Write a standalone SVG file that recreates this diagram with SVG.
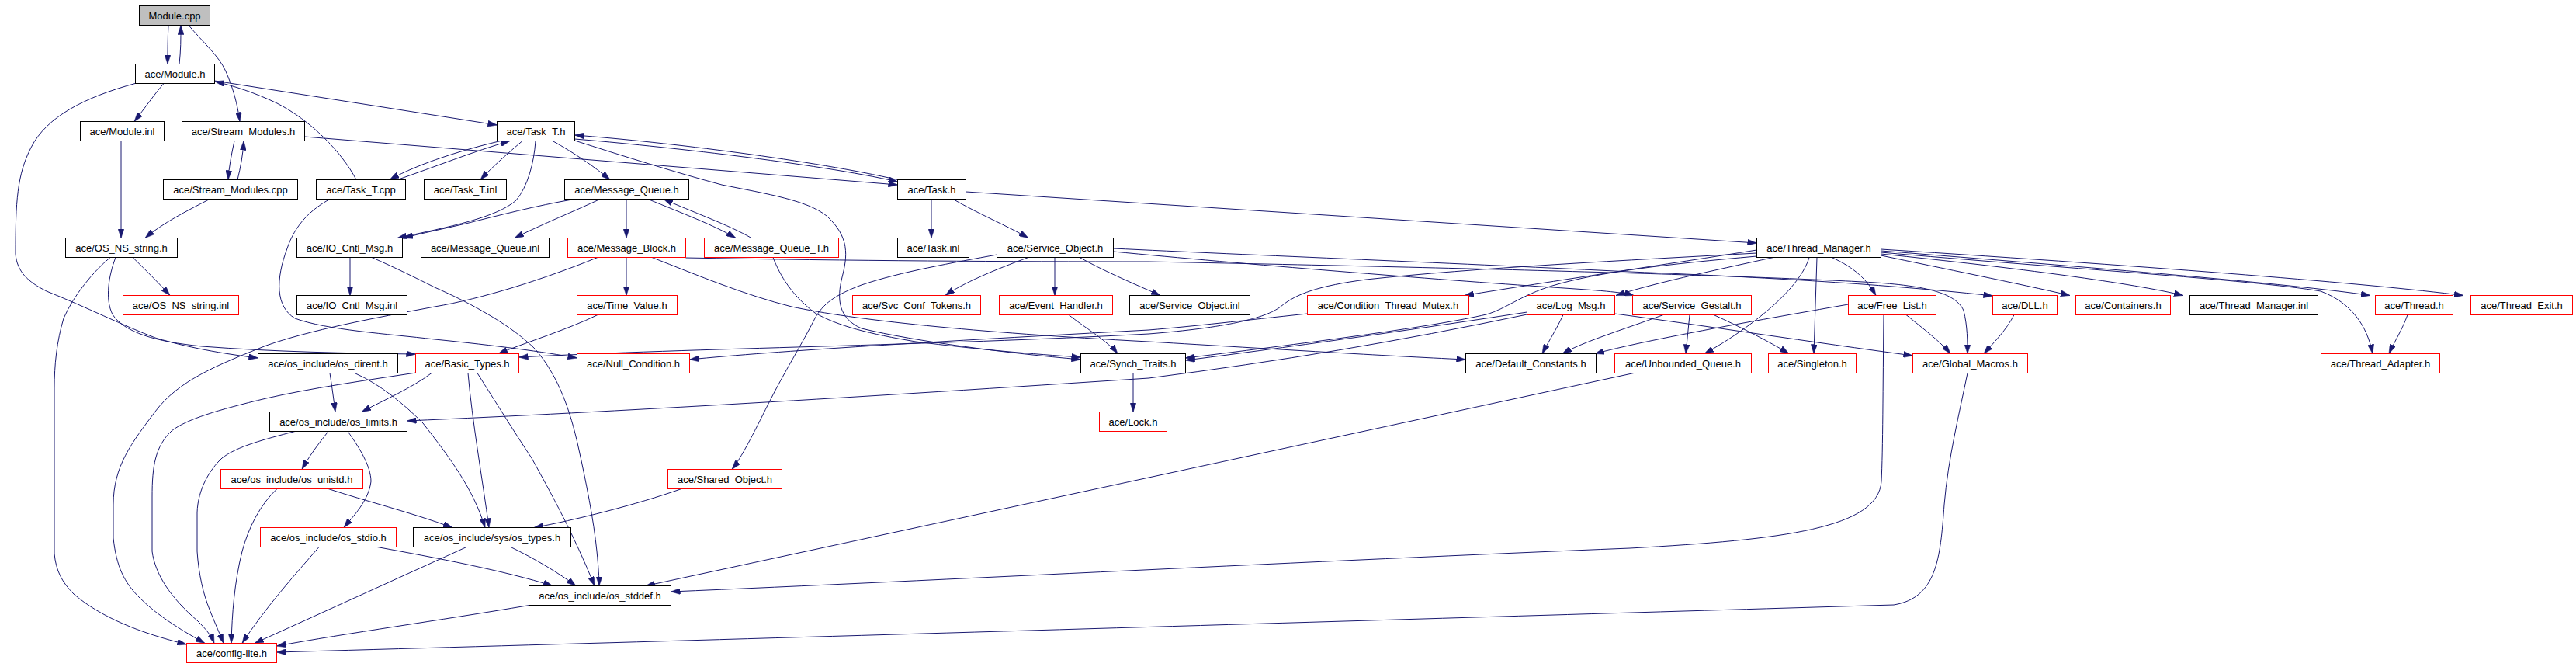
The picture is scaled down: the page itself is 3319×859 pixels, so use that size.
<svg xmlns="http://www.w3.org/2000/svg" width="3319" height="859" viewBox="0 0 3319 859">
<style>
.n rect{fill:#ffffff;stroke:#000000;stroke-width:1}
.n.r rect{stroke:#ff0000}
.n.g rect{fill:#bfbfbf}
.n text{font-family:"Liberation Sans",Arial,sans-serif;font-size:13px;fill:#000000;text-anchor:middle}
#edges path{fill:none;stroke:#191970;stroke-width:1;marker-end:url(#a)}
</style>
<defs>
<marker id="a" viewBox="0 0 12 8" refX="12" refY="4" markerWidth="12" markerHeight="8" markerUnits="userSpaceOnUse" orient="auto">
<path d="M0,0 L12,4 L0,8 z" fill="#191970" stroke="#191970" stroke-width="0.5"/>
</marker>
</defs>
<rect x="0" y="0" width="3319" height="859" fill="#ffffff"/>
<g id="edges">
<path d="M217,32.5 C216,50 216,65 216,82.5"/>
<path d="M231,82.5 C233,65 233,50 233,32.5"/>
<path d="M243,32.5 C262,55 282,72 291,92 C301,115 306,135 309,156.5"/>
<path d="M211,107.5 C200,120 186,140 173,156.5"/>
<path d="M174,107.5 C110,125 60,150 40,190 C22,225 20,260 20,327 C22,350 36,363 60,375 C110,395 160,420 200,435 C250,450 300,457 332.5,461"/>
<path d="M276.5,104 L640.5,161"/>
<path d="M459,231.5 C440,195 400,155 357,133 C330,120 300,110 277,105"/>
<path d="M302,181.5 C298,200 295,215 294,231.5"/>
<path d="M306,231.5 C310,215 313,200 314,181.5"/>
<path d="M392.5,176 L1156.5,238"/>
<path d="M270,256.5 C240,272 210,287 187,306.5"/>
<path d="M156,181.5 L156,306.5"/>
<path d="M645,181.5 C600,192 540,210 502,231.5"/>
<path d="M512,231.5 C560,215 610,195 657,181.5"/>
<path d="M673,181.5 C655,197 636,213 619,231.5"/>
<path d="M712,181.5 C740,197 765,214 786,231.5"/>
<path d="M690,181.5 C688,210 680,240 665,258 C640,280 580,292 512,306.5"/>
<path d="M740.5,179 C850,188 1050,210 1156.5,234"/>
<path d="M1156.5,231.5 C1050,207 860,183 740.5,174"/>
<path d="M740.5,181 C800,200 870,222 930,238 C990,250 1040,258 1065,278 C1095,305 1092,330 1085,357 C1078,385 1080,410 1110,423 C1180,440 1300,455 1392.5,463"/>
<path d="M425,256.5 C400,270 380,290 370,320 C355,360 355,395 380,410 C420,425 500,430 560,437 C640,445 700,453 743.5,461"/>
<path d="M740,256.5 C690,265 640,278 600,288 C570,295 545,300 520,306.5"/>
<path d="M773,256.5 C740,272 700,288 663,306.5"/>
<path d="M807,256.5 L807,306.5"/>
<path d="M835,256.5 C880,275 920,290 948,306.5"/>
<path d="M968,306.5 C940,290 890,272 855,256.5"/>
<path d="M1200,256.5 L1200,306.5"/>
<path d="M1228,256.5 C1260,275 1300,292 1325,306.5"/>
<path d="M1244.5,247 L2263.5,313"/>
<path d="M171,331.5 C190,350 205,365 219,380.5"/>
<path d="M149,331.5 C140,355 135,385 145,405 C160,428 200,440 260,446 C350,453 450,455 535.5,456"/>
<path d="M142,331.5 C120,350 95,380 82,410 C73,440 70,470 70,500 L70,713 C72,735 80,750 95,765 C130,795 180,815 240.5,830"/>
<path d="M451,331.5 L451,380.5"/>
<path d="M479,331.5 C510,345 540,360 560,370 C610,392 660,420 690,450 C720,485 735,530 745,575 C755,620 765,670 769,710 C771,730 772,745 772,754.5"/>
<path d="M770,331.5 C700,360 620,385 560,395 C480,410 400,425 343,445 C280,470 230,490 200,530 C170,570 146,600 146,650 L146,693 C150,730 160,750 180,770 C205,795 240,815 264,828.5"/>
<path d="M807,331.5 L807,380.5"/>
<path d="M840,331.5 C900,355 960,380 1020,395 C1100,412 1250,428 1480,440 C1650,450 1780,458 1888.5,463"/>
<path d="M883.5,332 C1100,336 1300,337 1480,337 C1900,345 2250,355 2400,363 C2480,367 2520,377 2530,400 C2535,420 2535,440 2535,455.5"/>
<path d="M996,331.5 C1005,355 1020,380 1050,403 C1080,420 1120,430 1180,440 C1260,450 1330,456 1392.5,460"/>
<path d="M770,405.5 C730,425 680,440 642,455.5"/>
<path d="M1325,331.5 C1280,348 1240,365 1218,380.5"/>
<path d="M1359,331.5 L1359,380.5"/>
<path d="M1391,331.5 C1420,348 1460,365 1495,380.5"/>
<path d="M1284.5,328 C1230,338 1160,350 1110,367 C1075,380 1060,392 1050,410 C1035,440 1010,480 990,520 C970,560 955,590 943,604.5"/>
<path d="M1434.5,320 C1600,328 1900,340 2100,350 C2300,358 2450,368 2567.5,381"/>
<path d="M1434.5,324 C1600,340 1850,360 2000,370 C2060,374 2090,376 2105,380.5"/>
<path d="M1377,405.5 C1395,420 1428,440 1440,455.5"/>
<path d="M1460,480.5 L1460,530.5"/>
<path d="M2263.5,322 C2150,340 2000,362 1887,380.5"/>
<path d="M2285,331.5 C2200,350 2130,365 2082,380.5"/>
<path d="M2263.5,326 C2100,335 1900,345 1760,360 C1700,368 1670,378 1650,395 C1630,410 1580,422 1480,430 C1200,445 900,448 668.5,460"/>
<path d="M1684.5,404 C1600,413 1540,420 1480,425 C1200,440 1000,452 888.5,463"/>
<path d="M2263.5,330 C2150,340 2060,350 2000,368 C1960,380 1940,398 1915,405 C1850,420 1700,440 1527.5,461"/>
<path d="M1967.5,402 C1850,420 1700,442 1527.5,464"/>
<path d="M1967.5,405 C1800,440 1650,465 1480,487 C1100,512 800,530 524.5,542"/>
<path d="M2014,405.5 C2005,425 1995,440 1987,455.5"/>
<path d="M2143,405.5 C2090,425 2040,440 2013,455.5"/>
<path d="M2381.5,392 C2250,415 2120,438 2055,455.5"/>
<path d="M2080.5,404 C2200,420 2330,440 2464.5,458"/>
<path d="M2177,405.5 L2172,455.5"/>
<path d="M2208,405.5 C2240,420 2280,440 2305,455.5"/>
<path d="M2331,331.5 C2320,370 2260,420 2196,455.5"/>
<path d="M2341,331.5 L2337,455.5"/>
<path d="M2360,331.5 C2390,345 2405,360 2417,380.5"/>
<path d="M2423.5,329 C2500,345 2600,365 2667,380.5"/>
<path d="M2423.5,327 C2600,345 2750,365 2813,380.5"/>
<path d="M2423.5,323 C2700,345 2950,365 3054,380.5"/>
<path d="M2423.5,321 C2800,345 3050,365 3174,380.5"/>
<path d="M2423.5,325 C2650,345 2900,360 2990,375 C3030,390 3050,420 3057,455.5"/>
<path d="M2456,405.5 C2480,425 2500,440 2513,455.5"/>
<path d="M2595,405.5 C2585,425 2570,440 2556,455.5"/>
<path d="M3102,405.5 C3095,425 3085,440 3078,455.5"/>
<path d="M2427,405.5 C2426,500 2426,580 2424,620 C2420,680 2300,695 2100,706 C1700,722 1200,748 864.5,762"/>
<path d="M2535,480.5 C2525,530 2510,590 2505,650 C2500,720 2495,770 2440,779 C2000,792 1000,822 356.5,840"/>
<path d="M2105,480.5 L832,754.5"/>
<path d="M556,480.5 C530,500 495,515 466,530.5"/>
<path d="M536,480 C470,490 400,500 343,513 C280,528 240,540 221,555 C200,575 196,600 196,640 L196,710 C200,740 220,770 255,800 C265,810 272,818 276,828.5"/>
<path d="M603,480.5 C608,540 622,620 630,679.5"/>
<path d="M615,480.5 C640,520 665,560 685,590 C710,635 740,690 766,754.5"/>
<path d="M425,480.5 C428,500 430,515 432,530.5"/>
<path d="M457,480.5 C490,495 520,520 545,545 C580,590 610,630 625,679.5"/>
<path d="M423,555.5 C410,572 398,588 389,604.5"/>
<path d="M448,555.5 C462,575 478,600 478,620 C475,645 455,665 443,679.5"/>
<path d="M380,555.5 C340,566 305,575 286,590 C270,605 255,630 254,660 L254,710 C256,740 262,765 270,785 C278,805 284,818 288,828.5"/>
<path d="M357,629.5 C335,650 320,680 312,710 C302,750 299,790 298,828.5"/>
<path d="M423,629.5 C470,645 530,660 583,679.5"/>
<path d="M411,704.5 C380,740 340,785 312,828.5"/>
<path d="M486,704.5 C560,718 650,735 712,754.5"/>
<path d="M601,704.5 L328,828.5"/>
<path d="M658,704.5 C690,720 720,738 742,754.5"/>
<path d="M878,629.5 C820,650 740,670 688,679.5"/>
<path d="M682,779.5 C560,800 450,815 356.5,832"/>
</g>
<g id="n_module_cpp" class="n g"><rect x="179.5" y="7.5" width="91" height="25"/><text x="225" y="25">Module.cpp</text></g>
<g id="n_module_h" class="n"><rect x="174.5" y="82.5" width="102" height="25"/><text x="225.5" y="100">ace/Module.h</text></g>
<g id="n_module_inl" class="n"><rect x="103.5" y="156.5" width="108" height="25"/><text x="157.5" y="174">ace/Module.inl</text></g>
<g id="n_stream_modules_h" class="n"><rect x="234.5" y="156.5" width="158" height="25"/><text x="313.5" y="174">ace/Stream_Modules.h</text></g>
<g id="n_task_t_h" class="n"><rect x="640.5" y="156.5" width="100" height="25"/><text x="690.5" y="174">ace/Task_T.h</text></g>
<g id="n_stream_modules_cpp" class="n"><rect x="210.5" y="231.5" width="173" height="25"/><text x="297" y="249">ace/Stream_Modules.cpp</text></g>
<g id="n_task_t_cpp" class="n"><rect x="407.5" y="231.5" width="115" height="25"/><text x="465" y="249">ace/Task_T.cpp</text></g>
<g id="n_task_t_inl" class="n"><rect x="546.5" y="231.5" width="106" height="25"/><text x="599.5" y="249">ace/Task_T.inl</text></g>
<g id="n_message_queue_h" class="n"><rect x="727.5" y="231.5" width="160" height="25"/><text x="807.5" y="249">ace/Message_Queue.h</text></g>
<g id="n_task_h" class="n"><rect x="1156.5" y="231.5" width="88" height="25"/><text x="1200.5" y="249">ace/Task.h</text></g>
<g id="n_os_ns_string_h" class="n"><rect x="84.5" y="306.5" width="144" height="25"/><text x="156.5" y="324">ace/OS_NS_string.h</text></g>
<g id="n_io_cntl_msg_h" class="n"><rect x="382.5" y="306.5" width="136" height="25"/><text x="450.5" y="324">ace/IO_Cntl_Msg.h</text></g>
<g id="n_message_queue_inl" class="n"><rect x="542.5" y="306.5" width="165" height="25"/><text x="625" y="324">ace/Message_Queue.inl</text></g>
<g id="n_message_block_h" class="n r"><rect x="731.5" y="306.5" width="152" height="25"/><text x="807.5" y="324">ace/Message_Block.h</text></g>
<g id="n_message_queue_t_h" class="n r"><rect x="907.5" y="306.5" width="173" height="25"/><text x="994" y="324">ace/Message_Queue_T.h</text></g>
<g id="n_task_inl" class="n"><rect x="1156.5" y="306.5" width="92" height="25"/><text x="1202.5" y="324">ace/Task.inl</text></g>
<g id="n_service_object_h" class="n"><rect x="1284.5" y="306.5" width="150" height="25"/><text x="1359.5" y="324">ace/Service_Object.h</text></g>
<g id="n_thread_manager_h" class="n"><rect x="2263.5" y="306.5" width="160" height="25"/><text x="2343.5" y="324">ace/Thread_Manager.h</text></g>
<g id="n_os_ns_string_inl" class="n r"><rect x="158.5" y="380.5" width="149" height="25"/><text x="233" y="398">ace/OS_NS_string.inl</text></g>
<g id="n_io_cntl_msg_inl" class="n"><rect x="382.5" y="380.5" width="142" height="25"/><text x="453.5" y="398">ace/IO_Cntl_Msg.inl</text></g>
<g id="n_time_value_h" class="n r"><rect x="743.5" y="380.5" width="129" height="25"/><text x="808" y="398">ace/Time_Value.h</text></g>
<g id="n_svc_conf_tokens_h" class="n r"><rect x="1098.5" y="380.5" width="165" height="25"/><text x="1181" y="398">ace/Svc_Conf_Tokens.h</text></g>
<g id="n_event_handler_h" class="n r"><rect x="1287.5" y="380.5" width="146" height="25"/><text x="1360.5" y="398">ace/Event_Handler.h</text></g>
<g id="n_service_object_inl" class="n"><rect x="1455.5" y="380.5" width="155" height="25"/><text x="1533" y="398">ace/Service_Object.inl</text></g>
<g id="n_condition_thread_mutex_h" class="n r"><rect x="1684.5" y="380.5" width="208" height="25"/><text x="1788.5" y="398">ace/Condition_Thread_Mutex.h</text></g>
<g id="n_log_msg_h" class="n r"><rect x="1967.5" y="380.5" width="113" height="25"/><text x="2024" y="398">ace/Log_Msg.h</text></g>
<g id="n_service_gestalt_h" class="n r"><rect x="2103.5" y="380.5" width="153" height="25"/><text x="2180" y="398">ace/Service_Gestalt.h</text></g>
<g id="n_free_list_h" class="n r"><rect x="2381.5" y="380.5" width="113" height="25"/><text x="2438" y="398">ace/Free_List.h</text></g>
<g id="n_dll_h" class="n r"><rect x="2567.5" y="380.5" width="83" height="25"/><text x="2609" y="398">ace/DLL.h</text></g>
<g id="n_containers_h" class="n r"><rect x="2674.5" y="380.5" width="122" height="25"/><text x="2735.5" y="398">ace/Containers.h</text></g>
<g id="n_thread_manager_inl" class="n"><rect x="2821.5" y="380.5" width="165" height="25"/><text x="2904" y="398">ace/Thread_Manager.inl</text></g>
<g id="n_thread_h" class="n r"><rect x="3060.5" y="380.5" width="100" height="25"/><text x="3110.5" y="398">ace/Thread.h</text></g>
<g id="n_thread_exit_h" class="n r"><rect x="3183.5" y="380.5" width="131" height="25"/><text x="3249" y="398">ace/Thread_Exit.h</text></g>
<g id="n_os_dirent_h" class="n"><rect x="332.5" y="455.5" width="180" height="25"/><text x="422.5" y="473">ace/os_include/os_dirent.h</text></g>
<g id="n_basic_types_h" class="n r"><rect x="535.5" y="455.5" width="133" height="25"/><text x="602" y="473">ace/Basic_Types.h</text></g>
<g id="n_null_condition_h" class="n r"><rect x="743.5" y="455.5" width="145" height="25"/><text x="816" y="473">ace/Null_Condition.h</text></g>
<g id="n_synch_traits_h" class="n"><rect x="1392.5" y="455.5" width="135" height="25"/><text x="1460" y="473">ace/Synch_Traits.h</text></g>
<g id="n_default_constants_h" class="n"><rect x="1888.5" y="455.5" width="168" height="25"/><text x="1972.5" y="473">ace/Default_Constants.h</text></g>
<g id="n_unbounded_queue_h" class="n r"><rect x="2080.5" y="455.5" width="176" height="25"/><text x="2168.5" y="473">ace/Unbounded_Queue.h</text></g>
<g id="n_singleton_h" class="n r"><rect x="2278.5" y="455.5" width="113" height="25"/><text x="2335" y="473">ace/Singleton.h</text></g>
<g id="n_global_macros_h" class="n r"><rect x="2464.5" y="455.5" width="148" height="25"/><text x="2538.5" y="473">ace/Global_Macros.h</text></g>
<g id="n_thread_adapter_h" class="n r"><rect x="2990.5" y="455.5" width="153" height="25"/><text x="3067" y="473">ace/Thread_Adapter.h</text></g>
<g id="n_os_limits_h" class="n"><rect x="347.5" y="530.5" width="177" height="25"/><text x="436" y="548">ace/os_include/os_limits.h</text></g>
<g id="n_lock_h" class="n r"><rect x="1416.5" y="530.5" width="87" height="25"/><text x="1460" y="548">ace/Lock.h</text></g>
<g id="n_os_unistd_h" class="n r"><rect x="284.5" y="604.5" width="183" height="25"/><text x="376" y="622">ace/os_include/os_unistd.h</text></g>
<g id="n_shared_object_h" class="n r"><rect x="860.5" y="604.5" width="147" height="25"/><text x="934" y="622">ace/Shared_Object.h</text></g>
<g id="n_os_stdio_h" class="n r"><rect x="335.5" y="679.5" width="175" height="25"/><text x="423" y="697">ace/os_include/os_stdio.h</text></g>
<g id="n_os_types_h" class="n"><rect x="532.5" y="679.5" width="203" height="25"/><text x="634" y="697">ace/os_include/sys/os_types.h</text></g>
<g id="n_os_stddef_h" class="n"><rect x="681.5" y="754.5" width="183" height="25"/><text x="773" y="772">ace/os_include/os_stddef.h</text></g>
<g id="n_config_lite_h" class="n r"><rect x="240.5" y="828.5" width="116" height="25"/><text x="298.5" y="846">ace/config-lite.h</text></g>
</svg>
